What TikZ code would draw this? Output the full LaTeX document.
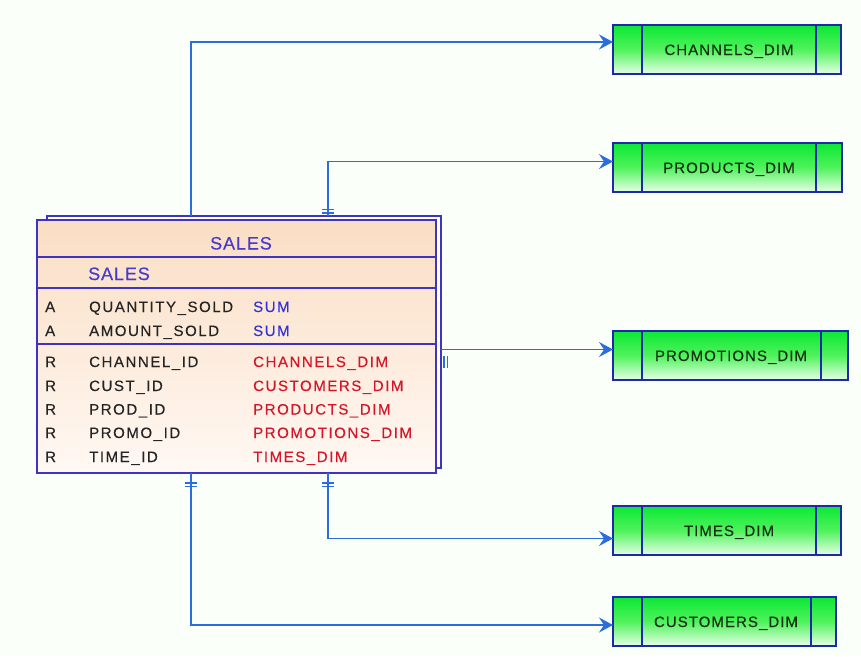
\documentclass[tikz,border=0pt]{standalone}
\usepackage{fontspec}
\setmainfont{Liberation Sans}
\newfontfamily\rowfont{Liberation Sans}[LetterSpace=10.5,FakeBold=0.3]
\newfontfamily\titlefont{Liberation Sans}[LetterSpace=5,FakeBold=0.3]
\newfontfamily\dimfont{Liberation Sans}[LetterSpace=7,FakeBold=0.3]
\usetikzlibrary{arrows.meta}

\definecolor{bgc}{RGB}{251,255,249}
\definecolor{connblue}{RGB}{43,108,222}
\definecolor{salesline}{RGB}{62,52,190}
\definecolor{dimline}{RGB}{30,40,170}
\definecolor{peachtop}{RGB}{250,222,196}
\definecolor{peachbot}{RGB}{255,248,243}
\definecolor{greentop}{RGB}{12,232,52}
\definecolor{greenmid}{RGB}{80,242,92}
\definecolor{greenbot}{RGB}{232,255,232}
\definecolor{rowtext}{RGB}{36,36,36}
\definecolor{sumblue}{RGB}{50,50,215}
\definecolor{fkred}{RGB}{212,22,40}
\definecolor{titleblue}{RGB}{70,60,200}
\definecolor{dimtext}{RGB}{22,48,22}

\tikzset{
  salesframe/.style={draw=salesline, line width=1.3pt, rectangle, inner sep=0pt, outer sep=0pt, anchor=north west},
  salesback/.style={salesframe, fill=white, minimum width=394pt, minimum height=252pt},
  salesfront/.style={salesframe, top color=peachtop, bottom color=peachbot, minimum width=399pt, minimum height=253pt},
  divider/.style={draw=salesline, line width=1.3pt},
  dimbox/.style={draw=dimline, line width=1.3pt, rectangle, inner sep=0pt, outer sep=0pt, anchor=north west,
    top color=greentop, bottom color=greenbot, middle color=greenmid, minimum height=49pt},
  dimsep/.style={draw=dimline, line width=1.2pt},
  dimlabel/.style={inner sep=0pt, anchor=base, text=dimtext, font=\dimfont\fontsize{15}{17}\selectfont},
  conn/.style={draw=connblue, line width=1.4pt, -{Stealth[length=14pt,width=15pt,inset=5pt]}},
  bar/.style={draw=connblue, line width=1.2pt},
  rowtxt/.style={inner sep=0pt, anchor=base west, font=\rowfont\fontsize{15}{17}\selectfont},
  kind/.style={rowtxt, text=rowtext},
  col/.style={rowtxt, text=rowtext},
  agg/.style={rowtxt, text=sumblue},
  fk/.style={rowtxt, text=fkred},
  title/.style={inner sep=0pt, anchor=base, text=titleblue, font=\titlefont\fontsize{18}{20}\selectfont},
}

\begin{document}
\begin{tikzpicture}[x=1pt,y=-1pt]
  % canvas
  \fill[bgc] (0,0) rectangle (861,656);
  \useasboundingbox (0,0) rectangle (861,656);

  % fact table with its stacked frame
  \node[salesback] (salesback) at (47,216) {};
  \node[salesfront] (sales) at (37,220) {};
  \draw[divider] ([yshift=-37pt]sales.north west) -- ([yshift=-37pt]sales.north east);
  \draw[divider] ([yshift=-68pt]sales.north west) -- ([yshift=-68pt]sales.north east);
  \draw[divider] ([yshift=-124pt]sales.north west) -- ([yshift=-124pt]sales.north east);

  \node[title] (ttl) at (241,249.5) {SALES};
  \node[title, anchor=base west] (sub) at (88,280) {SALES};

  \node[kind] (k1) at (45,312) {A};
  \node[col]  (c1) at (89,312) {QUANTITY\_SOLD};
  \node[agg]  (v1) at (253,312) {SUM};
  \node[kind] (k2) at (45,336) {A};
  \node[col]  (c2) at (89,336) {AMOUNT\_SOLD};
  \node[agg]  (v2) at (253,336) {SUM};

  \node[kind] (k3) at (45,367) {R};
  \node[col]  (c3) at (89,367) {CHANNEL\_ID};
  \node[fk]   (v3) at (253,367) {CHANNELS\_DIM};
  \node[kind] (k4) at (45,391) {R};
  \node[col]  (c4) at (89,391) {CUST\_ID};
  \node[fk]   (v4) at (253,391) {CUSTOMERS\_DIM};
  \node[kind] (k5) at (45,414.5) {R};
  \node[col]  (c5) at (89,414.5) {PROD\_ID};
  \node[fk]   (v5) at (253,414.5) {PRODUCTS\_DIM};
  \node[kind] (k6) at (45,438) {R};
  \node[col]  (c6) at (89,438) {PROMO\_ID};
  \node[fk]   (v6) at (253,438) {PROMOTIONS\_DIM};
  \node[kind] (k7) at (45,462) {R};
  \node[col]  (c7) at (89,462) {TIME\_ID};
  \node[fk]   (v7) at (253,462) {TIMES\_DIM};

  % dimension tables
  \node[dimbox, minimum width=228pt] (chan)  at (613,25)  {};
  \node[dimbox, minimum width=229pt] (prod)  at (613,143) {};
  \node[dimbox, minimum width=235pt] (promo) at (613,331) {};
  \node[dimbox, minimum width=228pt] (times) at (613,506) {};
  \node[dimbox, minimum width=223pt] (cust)  at (613,597) {};

  \foreach \b/\r in {chan/25, prod/26, promo/27, times/25, cust/25}{
    \draw[dimsep] ([xshift=29pt]\b.north west) -- ([xshift=29pt]\b.south west);
    \draw[dimsep] ([xshift=-\r pt]\b.north east) -- ([xshift=-\r pt]\b.south east);
  }

  \node[dimlabel] (chanlbl)  at (729,55)  {CHANNELS\_DIM};
  \node[dimlabel] (prodlbl)  at (729,173) {PRODUCTS\_DIM};
  \node[dimlabel] (promolbl) at (731,361) {PROMOTIONS\_DIM};
  \node[dimlabel] (timeslbl) at (729,536) {TIMES\_DIM};
  \node[dimlabel] (custlbl)  at (726,627) {CUSTOMERS\_DIM};

  % references from the fact table
  \coordinate (chanin)  at ([yshift=7.5pt]chan.west);
  \coordinate (prodin)  at ([yshift=6pt]prod.west);
  \coordinate (promoin) at ([yshift=6pt]promo.west);
  \coordinate (timesin) at ([yshift=-8pt]times.west);
  \coordinate (custin)  at ([yshift=-3.5pt]cust.west);

  \draw[conn] ([xshift=144pt]salesback.north west) |- (chanin);
  \draw[conn] ([xshift=281pt]salesback.north west) |- (prodin);
  \draw[conn] (promoin -| salesback.east) -- (promoin);
  \draw[conn] ([xshift=291pt]sales.south west) |- (timesin);
  \draw[conn] ([xshift=154pt]sales.south west) |- (custin);

  % one-side markers
  \foreach \d in {3,6.5}{
    \draw[bar] ([xshift=275pt,yshift=\d pt]salesback.north west) -- ++(12,0);
    \draw[bar] ([xshift=\d pt,yshift=-6pt]promoin -| salesback.east) -- ++(0,12);
  }
  \foreach \d in {10,13.5}{
    \draw[bar] ([xshift=285pt,yshift=-\d pt]sales.south west) -- ++(12,0);
    \draw[bar] ([xshift=148pt,yshift=-\d pt]sales.south west) -- ++(12,0);
  }
\end{tikzpicture}
\end{document}
